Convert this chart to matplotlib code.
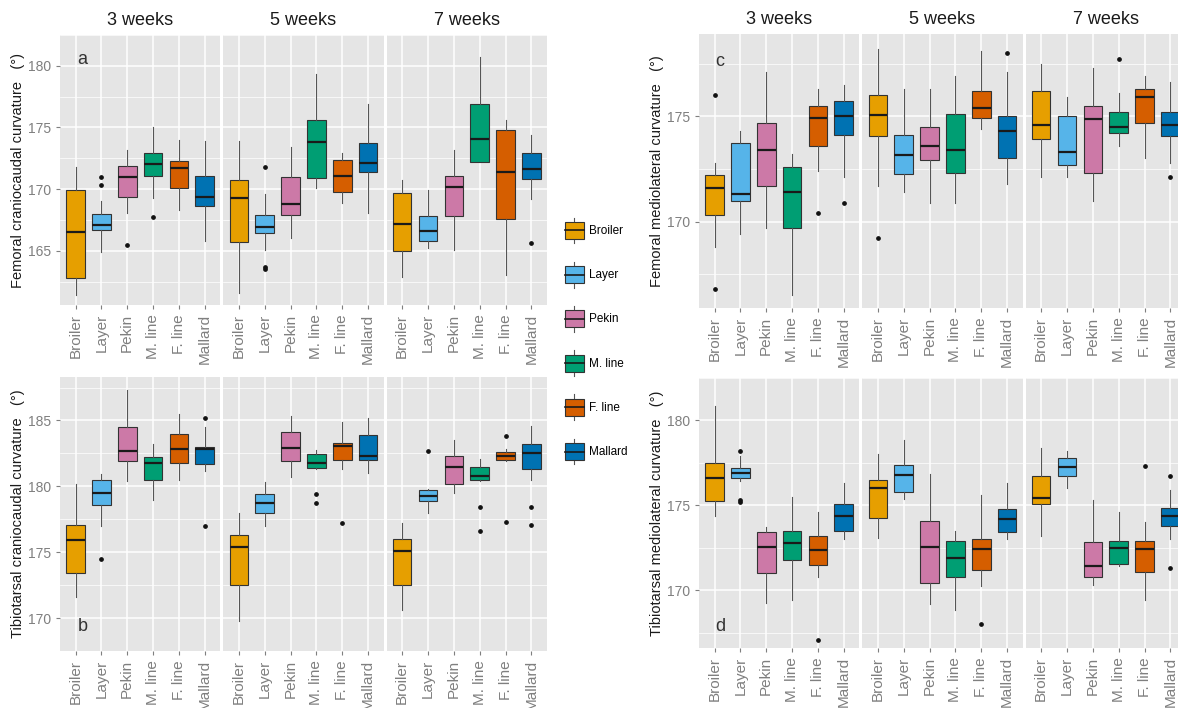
import numpy as np
import matplotlib.pyplot as plt
from matplotlib.patches import Rectangle, Patch
from matplotlib.lines import Line2D
from matplotlib.legend_handler import HandlerBase

plt.rcParams["font.family"] = ["Liberation Sans", "DejaVu Sans"]

breeds = ["Broiler", "Layer", "Pekin", "M. line", "F. line", "Mallard"]
weeks = ["3 weeks", "5 weeks", "7 weeks"]
colors = ["#E69F00", "#56B4E9", "#CC79A7", "#009E73", "#D55E00", "#0072B2"]

# box stats per week, per breed: (whislo, q1, med, q3, whishi)
fem_cc = [
    [(161.4, 162.8, 166.5, 169.9, 171.8), (164.9, 166.7, 167.1, 168.0, 169.0),
     (168.1, 169.4, 171.0, 171.9, 173.2), (169.3, 171.1, 172.0, 172.9, 175.0),
     (168.3, 170.1, 171.7, 172.3, 174.0), (165.8, 168.6, 169.4, 171.1, 173.9)],
    [(161.6, 165.7, 169.3, 170.7, 173.9), (165.1, 166.4, 166.9, 167.9, 169.6),
     (166.0, 167.9, 168.8, 171.0, 173.4), (170.1, 170.9, 173.8, 175.6, 179.3),
     (168.9, 169.8, 171.1, 172.4, 172.9), (168.1, 171.4, 172.1, 173.7, 176.9)],
    [(162.9, 165.0, 167.2, 169.7, 170.7), (165.2, 165.8, 166.6, 167.8, 169.9),
     (165.1, 167.8, 170.2, 171.1, 173.2), (172.2, 172.2, 174.1, 176.9, 180.7),
     (163.0, 167.6, 171.4, 174.8, 175.6), (169.2, 170.8, 171.6, 172.9, 174.4)],
]
fem_cc_out = [
    [[], [171.0, 170.3], [165.5], [167.7], [], []],
    [[], [171.8, 163.7, 163.5], [], [], [], []],
    [[], [], [], [], [], [165.6]],
]

tib_cc = [
    [(171.6, 173.4, 175.95, 177.1, 180.2), (177.0, 178.55, 179.5, 180.5, 180.9),
     (180.4, 181.9, 182.7, 184.5, 187.3), (179.0, 180.5, 181.8, 182.2, 183.2),
     (180.5, 181.8, 182.8, 184.0, 185.5), (181.2, 181.7, 182.8, 183.0, 184.5)],
    [(169.8, 172.5, 175.4, 176.3, 178.0), (177.0, 178.0, 178.7, 179.4, 180.3),
     (180.7, 181.9, 182.9, 184.1, 185.35), (181.3, 181.4, 181.8, 182.45, 182.75),
     (181.3, 182.0, 183.1, 183.3, 184.9), (181.0, 182.0, 182.3, 183.9, 185.2)],
    [(170.6, 172.5, 175.1, 176.0, 177.2), (178.0, 178.9, 179.3, 179.75, 179.8),
     (179.5, 180.2, 181.45, 182.3, 183.5), (180.4, 180.5, 180.75, 181.5, 182.1),
     (181.9, 182.0, 182.3, 182.6, 182.8), (180.5, 181.3, 182.5, 183.2, 184.6)],
]
tib_cc_out = [
    [[], [174.5], [], [], [], [185.2, 177.0]],
    [[], [], [], [179.4, 178.7], [177.2], []],
    [[], [182.7], [], [178.45, 176.6], [183.8, 177.3], [178.4, 177.1]],
]

fem_ml = [
    [(168.8, 170.3, 171.6, 172.2, 172.8), (169.4, 171.0, 171.3, 173.75, 174.3),
     (169.7, 171.7, 173.4, 174.7, 177.1), (166.5, 169.7, 171.4, 172.6, 173.2),
     (172.4, 173.6, 174.9, 175.5, 176.3), (172.1, 174.1, 175.0, 175.7, 176.5)],
    [(171.7, 174.05, 175.05, 176.0, 178.2), (171.4, 172.25, 173.15, 174.1, 176.3),
     (170.9, 172.9, 173.6, 174.5, 176.3), (170.9, 172.3, 173.4, 175.1, 176.9),
     (174.4, 174.9, 175.4, 176.2, 178.1), (171.8, 173.0, 174.3, 175.0, 177.1)],
    [(172.1, 173.9, 174.6, 176.2, 177.5), (172.1, 172.7, 173.3, 175.0, 175.9),
     (171.0, 172.3, 174.85, 175.5, 177.3), (173.6, 174.2, 174.5, 175.2, 176.1),
     (173.0, 174.7, 175.9, 176.3, 176.9), (172.8, 174.05, 174.6, 175.2, 176.6)],
]
fem_ml_out = [
    [[176.0, 166.8], [], [], [], [170.4], [170.9]],
    [[169.2], [], [], [], [], [178.0]],
    [[], [], [], [177.7], [], [172.1]],
]

tib_ml = [
    [(174.4, 175.25, 176.6, 177.5, 180.85), (176.45, 176.6, 176.9, 177.2, 177.9),
     (169.25, 171.0, 172.55, 173.45, 173.7), (169.4, 171.8, 172.8, 173.5, 175.5),
     (170.8, 171.5, 172.4, 173.2, 174.6), (173.0, 173.5, 174.4, 175.1, 176.3)],
    [(173.1, 174.25, 176.05, 176.5, 178.0), (175.4, 175.8, 176.8, 177.35, 178.85),
     (169.2, 170.4, 172.55, 174.05, 176.85), (168.85, 170.8, 171.9, 172.9, 173.5),
     (170.25, 171.2, 172.45, 173.0, 175.6), (173.0, 173.45, 174.2, 174.8, 176.3)],
    [(173.2, 175.1, 175.45, 176.7, 178.4), (176.0, 176.7, 177.25, 177.8, 178.2),
     (170.3, 170.8, 171.45, 172.85, 175.3), (171.4, 171.55, 172.5, 172.9, 174.6),
     (169.4, 171.05, 172.45, 172.9, 174.0), (173.0, 173.8, 174.4, 174.85, 175.9)],
]
tib_ml_out = [
    [[], [178.2, 175.3, 175.2], [], [], [167.1], []],
    [[], [], [], [], [168.0], []],
    [[], [], [], [], [177.3], [176.7, 171.3]],
]

W, H = 1178, 708
fig = plt.figure(figsize=(W / 100, H / 100), dpi=100)

facet_w = 160.3
gap = 3
bg = "#E5E5E5"
tick_gray = "#7F7F7F"


def draw_panel(x0, top, bottom, stats, outs, ylim, yticks, ylabel, letter, letter_xy, strips):
    first = None
    for f in range(3):
        left = x0 + f * (facet_w + gap)
        ax = fig.add_axes([left / W, 1 - bottom / H, facet_w / W, (bottom - top) / H])
        ax.set_facecolor(bg)
        bstats = []
        for i in range(6):
            lo, q1, med, q3, hi = stats[f][i]
            bstats.append(dict(whislo=lo, q1=q1, med=med, q3=q3, whishi=hi, fliers=outs[f][i]))
        res = ax.bxp(
            bstats,
            positions=np.arange(1, 7),
            widths=0.72,
            patch_artist=True,
            showcaps=False,
            boxprops=dict(edgecolor="#333333", linewidth=0.8),
            medianprops=dict(color="#1A1A1A", linewidth=1.6),
            whiskerprops=dict(color="#555555", linewidth=0.8),
            flierprops=dict(marker="o", markersize=2.4, markerfacecolor="#111111",
                            markeredgecolor="#111111"),
        )
        for patch, c in zip(res["boxes"], colors):
            patch.set_facecolor(c)
        ax.set_xlim(0.4, 6.6)
        ax.set_ylim(*ylim)
        ax.set_axisbelow(True)
        ax.set_xticks(np.arange(1, 7))
        ax.set_xticklabels(breeds, rotation=90, fontsize=11, color=tick_gray)
        ax.set_yticks(yticks)
        minor = [v + 2.5 for v in yticks] + [yticks[0] - 2.5]
        ax.set_yticks(minor, minor=True)
        ax.grid(which="major", color="white", linewidth=1.1)
        ax.grid(which="minor", axis="y", color="white", linewidth=0.5)
        ax.tick_params(which="minor", length=0)
        ax.tick_params(which="major", length=3, color=tick_gray, width=0.8)
        for s in ax.spines.values():
            s.set_visible(False)
        if f == 0:
            first = ax
            ax.set_yticklabels([str(v) for v in yticks], fontsize=10, color=tick_gray)
            ax.set_ylabel(ylabel, fontsize=10.5, color="#1A1A1A")
            ax.yaxis.set_label_coords(-0.22, 0.5)
            ax.text(letter_xy[0], letter_xy[1], letter, transform=ax.transAxes,
                    fontsize=13, color="#333333", ha="center", va="center")
        else:
            ax.tick_params(axis="y", left=False, labelleft=False)
        if strips:
            ax.set_title(weeks[f], fontsize=13, color="#1A1A1A", pad=7)
    return first


draw_panel(60, 35, 305, fem_cc, fem_cc_out, (160.6, 181.9), [165, 170, 175, 180],
           "Femoral craniocaudal curvature   (\u00b0)", "a", (0.14, 0.91), True)
draw_panel(60, 377, 651, tib_cc, tib_cc_out, (168.9, 188.3), [170, 175, 180, 185],
           "Tibiotarsal craniocaudal curvature   (\u00b0)", "b", (0.14, 0.09), False)
draw_panel(699, 34, 308, fem_ml, fem_ml_out, (165.9, 178.9), [170, 175],
           "Femoral mediolateral curvature   (\u00b0)", "c", (0.13, 0.90), True)
draw_panel(699, 378, 648, tib_ml, tib_ml_out, (166.6, 181.5), [170, 175, 180],
           "Tibiotarsal mediolateral curvature   (\u00b0)", "d", (0.13, 0.08), False)


class BoxKey(HandlerBase):
    def create_artists(self, legend, orig_handle, xdescent, ydescent, width, height, fontsize, trans):
        x0, y0 = -xdescent, -ydescent
        cx = x0 + width / 2
        fc = orig_handle.get_facecolor()
        box = Rectangle((x0, y0 + 0.17 * height), width, 0.66 * height, facecolor=fc,
                        edgecolor="#333333", linewidth=0.8, transform=trans)
        med = Line2D([x0, x0 + width], [y0 + height / 2] * 2, color="#1A1A1A",
                     linewidth=1.2, transform=trans)
        w1 = Line2D([cx, cx], [y0, y0 + 0.17 * height], color="#555555", linewidth=0.8,
                    transform=trans)
        w2 = Line2D([cx, cx], [y0 + 0.83 * height, y0 + height], color="#555555",
                    linewidth=0.8, transform=trans)
        return [w1, w2, box, med]


handles = [Patch(facecolor=c) for c in colors]
fig.legend(handles, breeds, handler_map={Patch: BoxKey()}, loc="center left",
           bbox_to_anchor=(565 / W, 1 - 341 / H), frameon=False, fontsize=8.5,
           handlelength=1.6, handleheight=3.0, labelspacing=1.55, handletextpad=0.45,
           borderpad=0, borderaxespad=0)

fig.savefig("out.png", dpi=100)
